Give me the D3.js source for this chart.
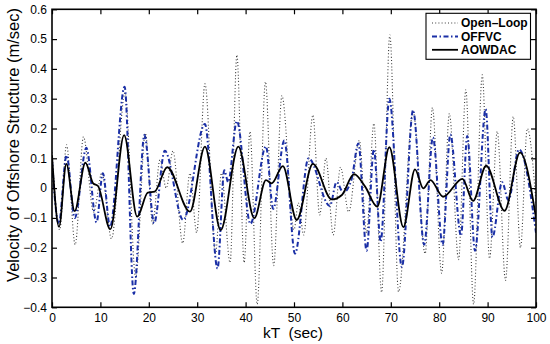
<!DOCTYPE html>
<html><head><meta charset="utf-8">
<script src="https://cdn.jsdelivr.net/npm/d3@7"></script>
<style>body{margin:0;background:#fff}svg{display:block}text{font-family:"Liberation Sans",Arial,Helvetica,sans-serif}</style>
</head><body>
<script>
// ---- data ----
const xTicks = [0,10,20,30,40,50,60,70,80,90,100];
const xTickLabels = ["0","10","20","30","40","50","60","70","80","90","100"];
const yTicks = [0.6,0.5,0.4,0.3,0.2,0.1,0,-0.1,-0.2,-0.3,-0.4];
const yTickLabels = ["0.6","0.5","0.4","0.3","0.2","0.1","0","\u22120.1","\u22120.2","\u22120.3","\u22120.4"];
const seriesNames = ["Open\u2013Loop","OFFVC","AOWDAC"];

const openT = [0,1.6,3.0,4.8,6.5,8.6,10.3,12.3,15.1,17.3,19.3,20.8,22.3,23.6,25.0,27.0,28.5,29.9,31.6,33.8,35.0,36.8,38.2,39.7,40.9,42.4,44.1,45.8,47.5,50.0,50.9,52.0,53.9,55.3,56.6,58.1,59.6,61.3,63.5,65.0,66.5,68.1,69.8,71.6,74.6,77.1,78.6,80.5,82.1,84.0,85.5,87.1,88.9,90.4,92.0,93.7,95.3,96.8,98.2,100];
const openV = [0.12,-0.14,0.145,-0.19,0.172,-0.08,0.05,-0.17,0.32,-0.30,0.185,-0.12,0.095,0.0,0.125,-0.185,0.05,-0.15,0.35,-0.22,0.05,-0.25,0.447,-0.25,0.19,-0.39,0.357,-0.26,0.31,-0.14,-0.05,-0.157,0.245,-0.09,0.10,-0.157,0.07,-0.08,0.16,-0.15,0.217,-0.35,0.514,-0.348,0.256,-0.22,0.27,-0.286,0.25,-0.24,0.33,-0.39,0.38,-0.236,0.19,-0.31,0.24,-0.2,0.2,-0.05];

const offvcT = [0,1.4,3.0,4.7,7.1,9.2,10.5,12.0,15.0,16.9,19.1,21.1,23.3,27.1,31.6,34.2,35.6,36.4,38.2,41.0,44.2,45.7,48.0,50.2,53.0,57.4,58.8,60.2,61.9,63.3,65.0,66.5,67.9,69.7,72.3,74.6,76.9,78.7,80.7,82.3,84.5,85.8,87.4,89.6,91.0,93.0,94.3,96.5,100];
const offvcV = [0.09,-0.12,0.11,-0.10,0.135,-0.115,0.05,-0.13,0.34,-0.355,0.178,-0.118,0.125,-0.107,0.215,-0.27,0.06,0.02,0.225,-0.12,0.14,-0.07,0.16,-0.22,0.10,-0.06,0.02,-0.015,0.03,0.15,-0.21,0.13,-0.18,0.30,-0.265,0.262,-0.19,0.17,-0.19,0.18,-0.16,0.175,-0.21,0.265,-0.165,0.02,-0.04,0.13,-0.15];

const aowdacT = [0,1.45,2.96,4.68,6.9,8.5,9.5,12.05,14.9,17.6,19.8,21.2,23.8,28.5,31.6,34.85,38.5,41.8,44.2,45.4,47.7,50.55,53.9,57.8,59.9,62.4,64.7,67.2,69.7,72.6,75.0,76.7,78.2,80.8,84.8,87.0,89.7,93.5,96.7,100];
const aowdacV = [0.11,-0.13,0.081,-0.077,0.085,0.016,0.007,-0.138,0.178,-0.096,-0.015,-0.012,0.07,-0.079,0.139,-0.141,0.139,-0.101,0.027,0.016,0.074,-0.107,0.081,-0.038,-0.023,0.047,0.005,-0.062,0.137,-0.131,0.063,-0.001,0.027,-0.029,0.031,-0.043,0.075,-0.076,0.119,-0.1];

// ---- chart ----
const W = 550, H = 344;
const L = 52, R = 536, T = 9.3, B = 307.3;
const svg = d3.select("body").append("svg").attr("width", W).attr("height", H);
const x = d3.scaleLinear().domain([0,100]).range([L,R]);
const y = d3.scaleLinear().domain([-0.4,0.6]).range([B,T]);

svg.append("defs").append("clipPath").attr("id","clip")
  .append("rect").attr("x",L).attr("y",T).attr("width",R-L).attr("height",B-T);

const styles = [
  {t: openT, v: openV, color: "#3c3c3c", width: 1.1, dash: "1,2.2"},
  {t: offvcT, v: offvcV, color: "#1a2fa6", width: 2, dash: "5,2.5,1.5,2.5"},
  {t: aowdacT, v: aowdacV, color: "#000", width: 1.8, dash: null}
];
const line = d3.line().x(d => x(d[0])).y(d => y(d[1])).curve(d3.curveMonotoneX);
const g = svg.append("g").attr("clip-path","url(#clip)");
styles.forEach(s => {
  const pts = s.t.map((t,i) => [t, s.v[i]]);
  g.append("path").attr("d", line(pts)).attr("fill","none")
    .attr("stroke", s.color).attr("stroke-width", s.width)
    .attr("stroke-dasharray", s.dash).attr("stroke-linejoin","round");
});

// axes
const fx = d => xTickLabels[xTicks.indexOf(d)];
const fy = d => yTickLabels[yTicks.indexOf(d)];
function styleAxis(sel){
  sel.select(".domain").remove();
  sel.selectAll("line").attr("stroke","#000").attr("stroke-width",1.2);
  sel.selectAll("text").attr("fill","#000").style("font-size","12px").style("font-family",'"Liberation Sans",Arial,sans-serif');
}
svg.append("g").attr("transform",`translate(0,${B})`)
  .call(d3.axisBottom(x).tickValues(xTicks).tickFormat(fx).tickSizeInner(-5).tickSizeOuter(0).tickPadding(6.5)).call(styleAxis);
svg.append("g").attr("transform",`translate(0,${T})`)
  .call(d3.axisTop(x).tickValues(xTicks).tickFormat("").tickSizeInner(-5).tickSizeOuter(0)).call(styleAxis);
svg.append("g").attr("transform",`translate(${L},0)`)
  .call(d3.axisLeft(y).tickValues(yTicks).tickFormat(fy).tickSizeInner(-5).tickSizeOuter(0).tickPadding(5)).call(styleAxis);
svg.append("g").attr("transform",`translate(${R},0)`)
  .call(d3.axisRight(y).tickValues(yTicks).tickFormat("").tickSizeInner(-5).tickSizeOuter(0)).call(styleAxis);

svg.append("rect").attr("x",L).attr("y",T).attr("width",R-L).attr("height",B-T)
  .attr("fill","none").attr("stroke","#000").attr("stroke-width",1.6);

// titles
svg.append("text").attr("x",293).attr("y",338).attr("text-anchor","middle")
  .style("font-size","15.5px").style("white-space","pre").text("kT  (sec)");
svg.append("text").attr("transform","translate(18.5,145) rotate(-90)").attr("text-anchor","middle")
  .style("font-size","16.5px").text("Velocity of Offshore Structure (m/sec)");

// legend
const lg = svg.append("g");
lg.append("rect").attr("x",426).attr("y",13.3).attr("width",104.5).attr("height",46)
  .attr("fill","#fff").attr("stroke","#000").attr("stroke-width",1.1);
const rowY = [23, 36.4, 49.8];
styles.forEach((s,i) => {
  lg.append("line").attr("x1",432).attr("x2",458).attr("y1",rowY[i]).attr("y2",rowY[i])
    .attr("stroke", s.color).attr("stroke-width", s.width).attr("stroke-dasharray", s.dash);
  lg.append("text").attr("x",461).attr("y",rowY[i]+4.3)
    .style("font-size","12px").style("font-weight","bold").text(seriesNames[i]);
});
</script>
</body></html>
